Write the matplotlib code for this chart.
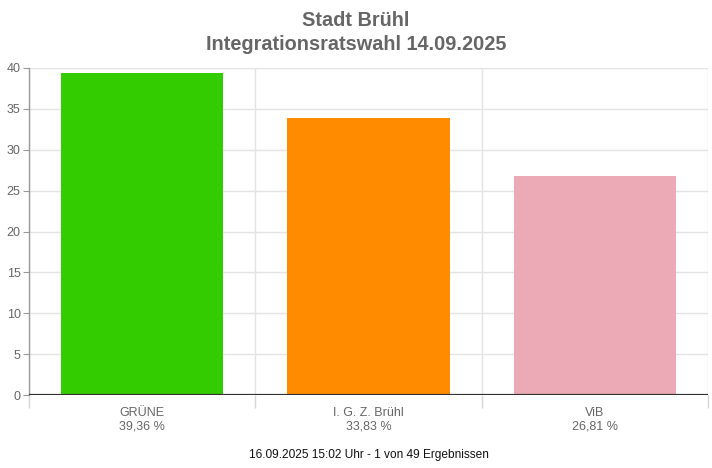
import matplotlib
matplotlib.use("Agg")
import matplotlib.pyplot as plt
import numpy as np

parties = ["GRÜNE", "I. G. Z. Brühl", "ViB"]
shares = [39.36, 33.83, 26.81]
colors = ["#33cc00", "#ff8c00", "#eca9b6"]
yticks = [0, 5, 10, 15, 20, 25, 30, 35, 40]

plt.rcParams['font.family'] = ['Liberation Sans', 'DejaVu Sans']

fig = plt.figure(figsize=(7.12, 4.68), dpi=100)
ax = fig.add_axes([29 / 712, 1 - 395 / 468, 679 / 712, 327 / 468])

x = np.arange(len(parties)) + 0.5
ax.bar(x, shares, width=0.717, color=colors, zorder=3)

ax.set_xlim(0, len(parties))
ax.set_ylim(0, 40)
ax.set_yticks(yticks)
ax.set_yticklabels([str(v) for v in yticks], color="#666666", fontsize=9)
ax.grid(axis="y", color="#e3e3e3", linewidth=1, zorder=0)

ax.set_xticks(x)
labels = ["{}\n{} %".format(p, ("%.2f" % s).replace(".", ",")) for p, s in zip(parties, shares)]
ax.set_xticklabels(labels, color="#666666", fontsize=9, linespacing=1.1)
ax.tick_params(axis="x", which="major", length=0, pad=9)
ax.set_xticks(np.arange(len(parties) + 1), minor=True)
ax.tick_params(axis="x", which="minor", length=9, color="#d6d6d6", width=1)
ax.grid(axis="x", which="minor", color="#e3e3e3", linewidth=1, zorder=0)
ax.tick_params(axis="y", length=4, color="#999999", pad=2)

for side in ["top", "right", "bottom"]:
    ax.spines[side].set_visible(False)
ax.spines["left"].set_color("#999999")
ax.spines["left"].set_linewidth(1)
ax.axhline(0, color="#333333", linewidth=1.6, zorder=4)

fig.text(0.5, 1 - 20 / 468, "Stadt Brühl", ha="center", va="center",
         fontsize=14.3, fontweight="bold", color="#666666")
fig.text(0.5, 1 - 45 / 468, "Integrationsratswahl 14.09.2025", ha="center", va="center",
         fontsize=14.3, fontweight="bold", color="#666666")
fig.text(368.5 / 712, 1 - 455 / 468, "16.09.2025 15:02 Uhr - 1 von 49 Ergebnissen", ha="center", va="center",
         fontsize=8.6, color="#111111")

fig.savefig("out.png", dpi=100)
